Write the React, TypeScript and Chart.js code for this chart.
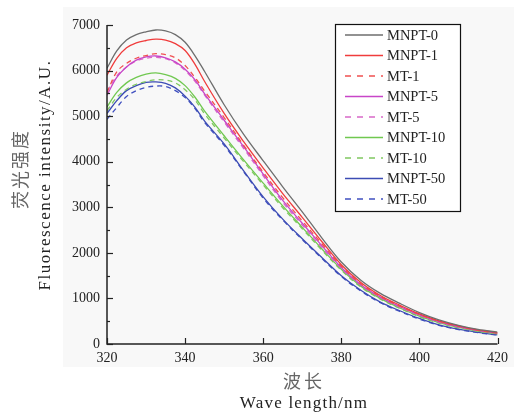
import React, { useEffect, useRef } from 'react';
import { Chart, registerables } from 'chart.js';
Chart.register(...registerables);

const wavelengths = [320, 322.5, 325, 327.5, 330, 332.5, 335, 337.5, 340, 342.5, 345, 350, 355, 360, 365, 370, 375, 380, 385, 390, 395, 400, 405, 410, 415, 420];

const mnpt0 = [6050, 6430, 6670, 6790, 6850, 6890, 6870, 6790, 6620, 6330, 5980, 5250, 4600, 4020, 3450, 2900, 2330, 1800, 1400, 1110, 890, 690, 530, 410, 320, 260];
const mnpt1 = [5900, 6270, 6500, 6610, 6660, 6690, 6670, 6590, 6440, 6140, 5760, 5060, 4440, 3860, 3300, 2780, 2250, 1740, 1350, 1065, 850, 660, 510, 400, 310, 250];
const mt1 = [5520, 5970, 6160, 6270, 6330, 6370, 6350, 6280, 6110, 5850, 5550, 4970, 4360, 3770, 3210, 2700, 2200, 1710, 1320, 1045, 830, 650, 500, 390, 300, 240];
const mnpt5 = [5460, 5850, 6080, 6230, 6300, 6320, 6280, 6190, 6030, 5800, 5490, 4910, 4330, 3730, 3150, 2650, 2160, 1680, 1300, 1030, 820, 640, 490, 380, 300, 240];
const mt5 = [5550, 5880, 6080, 6210, 6270, 6290, 6260, 6170, 6000, 5770, 5460, 4870, 4290, 3690, 3110, 2610, 2120, 1660, 1290, 1020, 810, 630, 480, 375, 295, 235];
const mnpt10 = [5200, 5520, 5730, 5850, 5920, 5950, 5910, 5830, 5670, 5420, 5110, 4570, 4040, 3530, 3030, 2560, 2090, 1640, 1270, 1000, 790, 610, 470, 365, 285, 225];
const mt10 = [5120, 5410, 5590, 5700, 5760, 5800, 5790, 5730, 5580, 5360, 5050, 4520, 4000, 3490, 2990, 2530, 2060, 1620, 1250, 985, 780, 600, 460, 355, 280, 220];
const mnpt50 = [5060, 5340, 5560, 5670, 5740, 5750, 5720, 5620, 5440, 5200, 4890, 4390, 3800, 3230, 2740, 2310, 1900, 1500, 1180, 920, 730, 560, 420, 325, 255, 200];
const mt50 = [4930, 5190, 5430, 5560, 5630, 5660, 5650, 5560, 5410, 5170, 4860, 4360, 3780, 3200, 2720, 2290, 1880, 1480, 1165, 905, 715, 545, 410, 318, 248, 195];

const seriesLabels = ['MNPT-0', 'MNPT-1', 'MT-1', 'MNPT-5', 'MT-5', 'MNPT-10', 'MT-10', 'MNPT-50', 'MT-50'];
const seriesValues = [mnpt0, mnpt1, mt1, mnpt5, mt5, mnpt10, mt10, mnpt50, mt50];
const seriesColors = ['#6e6e6e', '#f03c3c', '#f05050', '#c845c8', '#d868c8', '#70c850', '#80c860', '#3c4cb4', '#4050c0'];
const seriesDashed = [false, false, true, false, true, false, true, false, true];

const xTicks = [320, 340, 360, 380, 400, 420];
const yTicks = [0, 1000, 2000, 3000, 4000, 5000, 6000, 7000];

const SERIF = "'Liberation Serif', 'Times New Roman', 'Noto Sans CJK SC', serif";
const CJK = "'Noto Sans CJK SC', sans-serif";

export default function App() {
  const ref = useRef<HTMLCanvasElement>(null);
  useEffect(() => {
    document.body.style.margin = '0';
    const canvas = ref.current;
    if (!canvas) return;

    const bgPlugin = {
      id: 'bgPlugin',
      beforeDraw(chart: any) {
        const ctx = chart.ctx;
        ctx.save();
        ctx.fillStyle = '#ffffff';
        ctx.fillRect(0, 0, chart.width, chart.height);
        ctx.fillStyle = '#f8f8f8';
        ctx.fillRect(63, 7, chart.width - 63, 360);
        ctx.restore();
      },
    };

    const decoPlugin = {
      id: 'decoPlugin',
      afterDraw(chart: any) {
        const ctx = chart.ctx;
        const area = chart.chartArea;
        const xs = chart.scales.x;
        const ys = chart.scales.y;
        ctx.save();
        ctx.strokeStyle = '#222';
        ctx.lineWidth = 1.5;
        ctx.beginPath();
        ctx.moveTo(area.left, area.top);
        ctx.lineTo(area.left, area.bottom);
        ctx.lineTo(area.right, area.bottom);
        ctx.stroke();
        ctx.lineWidth = 1.2;
        for (let v = 0; v <= 7000; v += 500) {
          const py = Math.round(ys.getPixelForValue(v)) + 0.5;
          const len = v % 1000 === 0 ? 6 : 3;
          ctx.beginPath();
          ctx.moveTo(area.left, py);
          ctx.lineTo(area.left + len, py);
          ctx.stroke();
        }
        for (const t of xTicks) {
          const px = Math.round(xs.getPixelForValue(t)) + 0.5;
          ctx.beginPath();
          ctx.moveTo(px, area.bottom);
          ctx.lineTo(px, area.bottom - 6);
          ctx.stroke();
        }

        ctx.textAlign = 'center';
        ctx.textBaseline = 'middle';
        (ctx as any).letterSpacing = '2px';
        ctx.fillStyle = '#666';
        ctx.font = `18px ${CJK}`;
        ctx.save();
        ctx.translate(20, 169);
        ctx.rotate(-Math.PI / 2);
        ctx.fillText('荧光强度', 0, 0);
        ctx.restore();
        (ctx as any).letterSpacing = '3px';
        ctx.font = `18px ${CJK}`;
        ctx.fillText('波长', 304, 381);

        (ctx as any).letterSpacing = '1.5px';
        ctx.fillStyle = '#222';
        ctx.font = `17px ${SERIF}`;
        ctx.save();
        ctx.translate(46, 175);
        ctx.rotate(-Math.PI / 2);
        ctx.fillText('Fluorescence intensity/A.U.', 0, 0);
        ctx.restore();
        (ctx as any).letterSpacing = '1.2px';
        ctx.fillText('Wave length/nm', 304, 404);
        (ctx as any).letterSpacing = '0px';

        const bx = 335, by = 24, bw = 125, bh = 187;
        ctx.fillStyle = '#ffffff';
        ctx.fillRect(bx, by, bw, bh);
        ctx.strokeStyle = '#111';
        ctx.lineWidth = 1.2;
        ctx.strokeRect(bx + 0.5, by + 0.5, bw, bh);
        ctx.font = `14.5px ${SERIF}`;
        ctx.textAlign = 'left';
        ctx.textBaseline = 'middle';
        chart.data.datasets.forEach((ds: any, i: number) => {
          const yy = 35 + i * 20.5;
          ctx.strokeStyle = ds.borderColor;
          ctx.lineWidth = 1.5;
          ctx.setLineDash(ds.borderDash && ds.borderDash.length ? [6, 6] : []);
          ctx.beginPath();
          ctx.moveTo(345, yy);
          ctx.lineTo(383, yy);
          ctx.stroke();
          ctx.setLineDash([]);
          ctx.fillStyle = '#222';
          ctx.fillText(ds.label, 387, yy + 1);
        });
        ctx.restore();
      },
    };

    const chart = new Chart(canvas, {
      type: 'line',
      data: {
        datasets: seriesLabels.map((label, i) => ({
          label,
          data: wavelengths.map((x, j) => ({ x, y: seriesValues[i][j] })),
          borderColor: seriesColors[i],
          backgroundColor: seriesColors[i],
          borderWidth: 1.3,
          borderDash: seriesDashed[i] ? [5, 4] : [],
          pointRadius: 0,
          tension: 0.35,
          fill: false,
        })),
      },
      options: {
        responsive: false,
        animation: false,
        layout: { padding: { left: 0, top: 25, right: 14, bottom: 0 } },
        plugins: { legend: { display: false }, tooltip: { enabled: false } },
        scales: {
          x: {
            type: 'linear',
            min: 320,
            max: 420,
            afterBuildTicks: (s: any) => { s.ticks = xTicks.map((v) => ({ value: v })); },
            afterFit: (s: any) => { s.height = 71; },
            grid: { display: false, drawTicks: false },
            border: { display: false },
            ticks: { color: '#222', font: { family: SERIF, size: 14 }, padding: 6, maxRotation: 0, callback: (v: any) => String(v) },
          },
          y: {
            type: 'linear',
            min: 0,
            max: 7000,
            afterBuildTicks: (s: any) => { s.ticks = yTicks.map((v) => ({ value: v })); },
            afterFit: (s: any) => { s.width = 107; },
            grid: { display: false, drawTicks: false },
            border: { display: false },
            ticks: { color: '#222', font: { family: SERIF, size: 14 }, padding: 7, callback: (v: any) => String(v) },
          },
        },
      },
      plugins: [bgPlugin, decoPlugin],
    } as any);
    return () => chart.destroy();
  }, []);
  return (
    <div style={{ width: 514, height: 415 }}>
      <canvas ref={ref} width={514} height={415} style={{ display: 'block' }} />
    </div>
  );
}
